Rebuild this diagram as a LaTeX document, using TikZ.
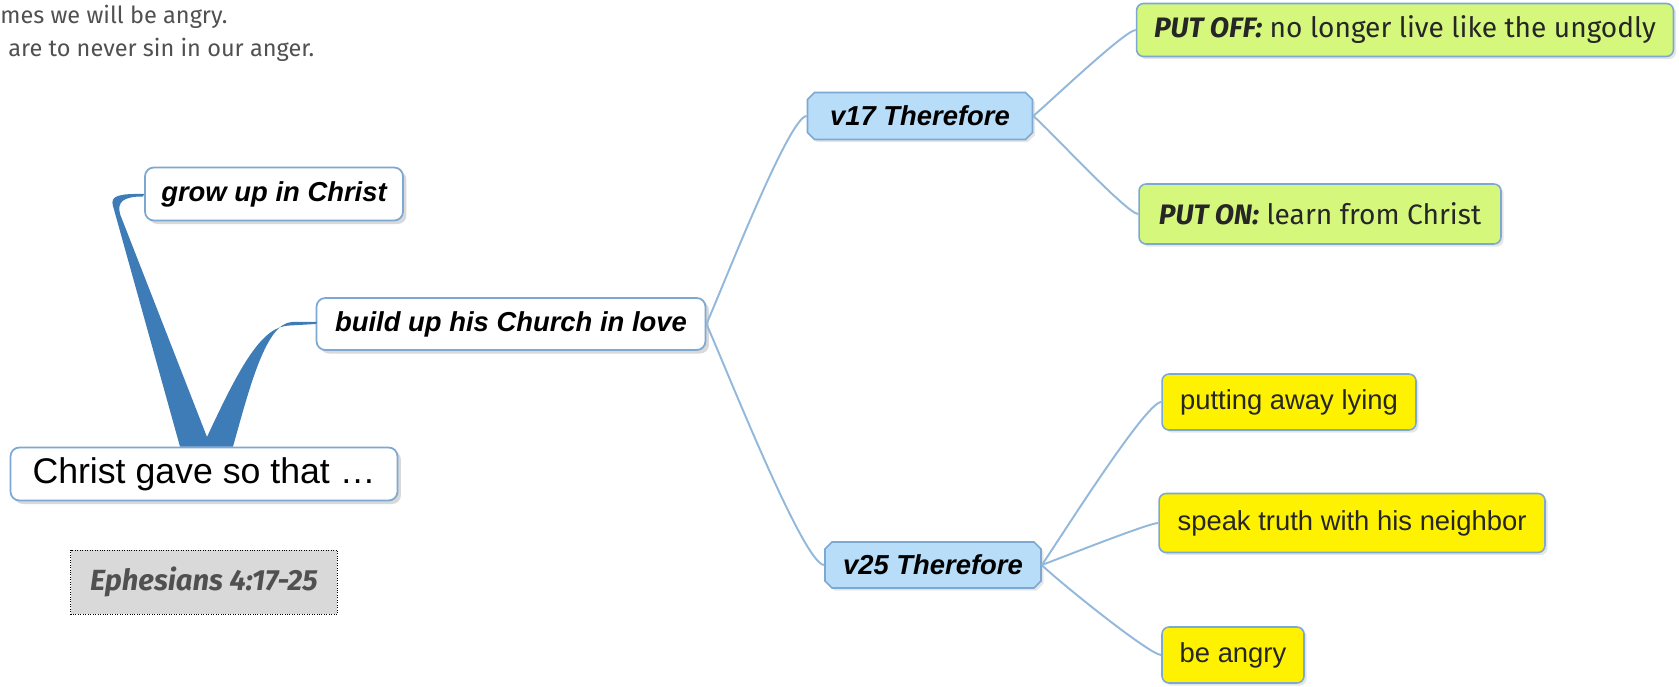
\documentclass[tikz,border=0pt]{standalone}
\usepackage{fontspec}
\setmainfont{Liberation Sans}
\newfontfamily\firafont{Fira Sans}
\usetikzlibrary{shapes.misc, shadows}
\definecolor{branchblue}{HTML}{3D7CB6}
\definecolor{linkblue}{HTML}{93B8DB}
\definecolor{frameblue}{HTML}{7DA8D2}
\definecolor{topicfill}{HTML}{B8DDF8}
\definecolor{greenfill}{HTML}{D5F87C}
\definecolor{notefill}{HTML}{D9D9D9}
\definecolor{greytext}{HTML}{505050}
\newcommand{\bigfont}{\fontsize{20.3pt}{23pt}\selectfont}
\newcommand{\midfont}{\fontsize{15.6pt}{18pt}\selectfont}
\newcommand{\firamid}{\firafont\fontsize{16pt}{19pt}\selectfont}
\newcommand{\firasmall}{\firafont\fontsize{13.4pt}{16pt}\selectfont}
\tikzstyle{central} = [rectangle, rounded corners=5pt, draw=frameblue, line width=1pt, fill=white, drop shadow={shadow xshift=2pt, shadow yshift=-2pt, opacity=0.3}, text centered, inner sep=0pt]
\tikzstyle{topic} = [chamfered rectangle, chamfered rectangle xsep=2pt, chamfered rectangle ysep=2pt, draw=frameblue, line width=0.9pt, fill=topicfill, drop shadow={shadow xshift=1.5pt, shadow yshift=-1.5pt, opacity=0.2}, text centered, inner sep=0pt, font=\midfont\bfseries\itshape]
\tikzstyle{green} = [rectangle, rounded corners=4pt, draw=frameblue, line width=0.9pt, fill=greenfill, drop shadow={shadow xshift=1.5pt, shadow yshift=-1.5pt, opacity=0.2}, text centered, inner sep=0pt, text=black!85, font=\firamid]
\tikzstyle{yellow} = [rectangle, rounded corners=4pt, draw=frameblue, line width=0.9pt, fill=yellow, drop shadow={shadow xshift=1.5pt, shadow yshift=-1.5pt, opacity=0.2}, text centered, inner sep=0pt, text=black!85, font=\midfont]
\tikzstyle{link} = [draw=linkblue, line width=1.1pt, out looseness=0.35, in looseness=0.2]
\tikzstyle{branch} = [fill=branchblue, draw=none]

\begin{document}
\begin{tikzpicture}[x=0.02cm, y=0.02cm]
        \useasboundingbox (0,0) rectangle (1679,686);
        \node (line1) [anchor=west, inner sep=0pt, text=greytext, font=\firasmall] at (0,669) {mes we will be angry.};
        \node (line2) [anchor=west, inner sep=0pt, text=greytext, font=\firasmall] at (8,636) {are to never sin in our anger.};

        \node (root) [central, minimum width=7.74cm, minimum height=1.06cm, font=\bigfont] at (204,212) {Christ gave so that \dots};
        \node (grow) [central, minimum width=5.16cm, minimum height=1.06cm, font=\midfont\bfseries\itshape] at (274,492) {grow up in Christ};
        \node (build) [central, minimum width=7.78cm, minimum height=1.04cm, font=\midfont\bfseries\itshape] at (511,362) {build up his Church in love};
        \node (eph) [rectangle, draw=black, densely dotted, fill=notefill, minimum width=5.34cm, minimum height=1.28cm, inner sep=0pt, text=greytext, font=\firafont\fontsize{16.6pt}{19pt}\selectfont\bfseries\itshape] at (204,104) {Ephesians 4:17-25};

        \node (v17) [topic, minimum width=4.5cm, minimum height=0.94cm] at (920,570) {v17 Therefore};
        \node (v25) [topic, minimum width=4.32cm, minimum height=0.92cm] at (933,121) {v25 Therefore};

        \node (putoff) [green, minimum width=10.74cm, minimum height=1.06cm] at (1405,656) {\textbf{\textit{PUT OFF:}} no longer live like the ungodly};
        \node (puton) [green, minimum width=7.24cm, minimum height=1.2cm] at (1320,472) {\textbf{\textit{PUT ON:}} learn from Christ};

        \node (lying) [yellow, minimum width=5.08cm, minimum height=1.12cm] at (1289,284) {putting away lying};
        \node (speak) [yellow, minimum width=7.72cm, minimum height=1.18cm] at (1352,163) {speak truth with his neighbor};
        \node (angry) [yellow, minimum width=2.84cm, minimum height=1.12cm] at (1233,31) {be angry};

        % tapered main branches
        \fill[branch] ([xshift=-0.48cm]root.north) -- (113,480) .. controls (110,490) and (118,492.5) .. (grow.west) -- (143,489.5) .. controls (123,489.5) and (117,484) .. (120,472) -- (207,249) .. controls (240,320) and (262,360.5) .. (290,360.5) -- (build.west) -- (317,364) -- (292,364) .. controls (266,363) and (250,300) .. ([xshift=0.58cm]root.north) -- cycle;

        \draw [link] (build.east) to[out=65,in=180] (v17.west);
        \draw [link] (build.east) to[out=-65,in=180] (v25.west);
        \draw [link] (v17.east) to[out=40,in=180] (putoff.west);
        \draw [link] (v17.east) to[out=-40,in=180] (puton.west);
        \draw [link] (v25.east) to[out=55,in=180] (lying.west);
        \draw [link] (v25.east) to[out=20,in=180] (speak.west);
        \draw [link] (v25.east) to[out=-45,in=180] (angry.west);
\end{tikzpicture}
\end{document}
